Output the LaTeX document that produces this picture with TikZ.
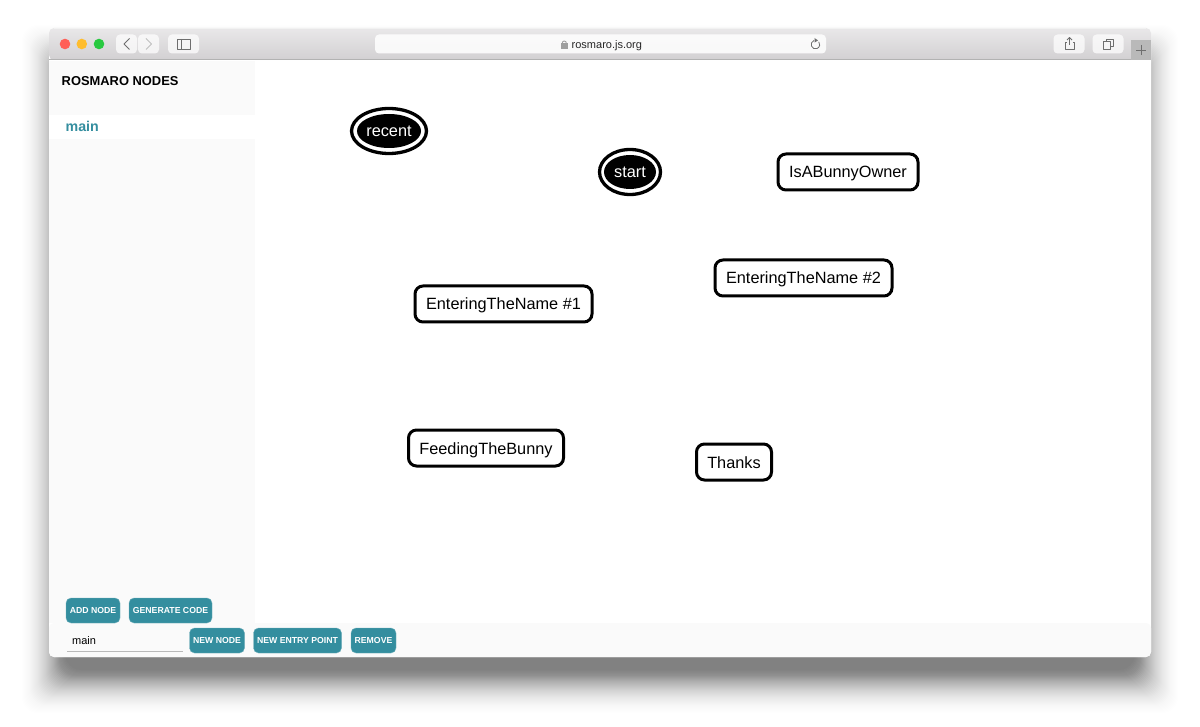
\documentclass[tikz,border=0pt]{standalone}
\usepackage{fontspec}
\setmainfont{Liberation Sans}
\definecolor{teal}{HTML}{348E9F}
\definecolor{side}{HTML}{FAFAFA}
\definecolor{icon}{HTML}{6E6E6E}
\definecolor{tlred}{HTML}{FF5F57}
\definecolor{tlyellow}{HTML}{FFBD2E}
\definecolor{tlgreen}{HTML}{28C940}
\definecolor{bartop}{HTML}{E9E8E9}
\definecolor{barbot}{HTML}{D2D0D2}
\tikzset{
 x=1pt,y=-1pt,
 statebox/.style={draw=black,line width=3pt,rounded corners=8pt,fill=white,minimum height=36pt,inner sep=0pt,font=\fontsize{16.3}{20}\selectfont,text=black,text height=12pt,text depth=0pt},
 entry/.style={ellipse,fill=black,text=white,inner sep=0pt,font=\fontsize{16.3}{20}\selectfont,text height=12pt,text depth=0pt},
 ring/.style={draw=black,line width=3.3pt,ellipse,inner sep=0pt,minimum height=45pt},
 btn/.style={fill=teal,draw=teal!70!white,line width=.4pt,rounded corners=5pt,text=white,minimum height=25pt,inner sep=0pt,font=\bfseries\fontsize{8.7}{10}\selectfont},
 tool/.style={fill=white,fill opacity=.72,text opacity=1,rounded corners=4pt,inner sep=0pt,minimum height=19pt},
 ic/.style={draw=icon,line width=.9pt,line join=round}
}
\usetikzlibrary{shapes.geometric}
\begin{document}
\begin{tikzpicture}
\useasboundingbox (0,0) rectangle (1200,727);
\fill[white] (0,0) rectangle (1200,727);
% shadow
\foreach \s in {0,...,47}{
 \pgfmathsetmacro{\op}{0.023*(1-\s/48)}
 \fill[black,opacity=\op,rounded corners=16pt] ({65-\s},{68-\s}) rectangle ({1135+\s},{670+\s});
}
% window
\fill[white,rounded corners=5pt] (49,28) rectangle (1151,657);
\shade[top color=bartop,bottom color=barbot,rounded corners=5pt] (49,28) -- (49,60) -- (1151,60) -- (1151,28) -- cycle;
\draw[white!95!black,line width=1pt] (54,28.5) -- (1146,28.5);
\fill[gray!60] (49,59.5) rectangle (1151,60.5);
% side panel and bottom bar
\fill[side] (49,61) rectangle (255,623);
\fill[side,rounded corners=5pt] (49,623) -- (49,657) -- (1151,657) -- (1151,623) -- cycle;
\fill[white] (49,115) rectangle (255,139);
% traffic lights
\fill[tlred] (65,44) circle (5.3pt);
\fill[tlyellow] (81.8,44) circle (5.3pt);
\fill[tlgreen] (99,44) circle (5.3pt);
% toolbar buttons
\node[tool,minimum width=21pt] (back) at (126.5,44) {};
\node[tool,minimum width=21pt] (fwd) at (148.5,44) {};
\node[tool,minimum width=31pt] (sidebar) at (183.5,44) {};
\draw[ic,line width=1pt] (129.5,38.5) -- (124,44) -- (129.5,49.5);
\draw[ic,draw=gray!50,line width=1pt] (146,38.5) -- (151.5,44) -- (146,49.5);
\draw[ic] (177,39) rectangle (190,49);
\draw[ic] (181,39) -- (181,49);
% address bar
\node[fill=white,fill opacity=.85,text opacity=1,rounded corners=4pt,minimum width=451pt,minimum height=19pt,inner sep=0pt] (addr) at (600.5,44) {};
\node[font=\fontsize{11}{12}\selectfont,text=black!85,anchor=west,inner sep=0pt] (url) at (571.5,45.5) {rosmaro.js.org};
\fill[gray!75] (561,43) rectangle (567.5,49);
\draw[gray!75,line width=.9pt] (562.3,43) arc (180:0:2pt);
\draw[ic,line width=.8pt] (814,40.5) arc (110:400:4.3pt);
\fill[icon] (814.5,38) -- (818,40.4) -- (814.5,42.6) -- cycle;
% right buttons
\node[tool,minimum width=31pt] (share) at (1069,44) {};
\node[tool,minimum width=31pt] (tabs) at (1108,44) {};
\draw[ic] (1066.5,42) -- (1065,42) -- (1065,49.5) -- (1074,49.5) -- (1074,42) -- (1072.5,42);
\draw[ic] (1069.5,45) -- (1069.5,37.5) (1067,40) -- (1069.5,37.5) -- (1072,40);
\draw[ic] (1103,41.5) rectangle (1110,49);
\draw[ic] (1106,41.5) -- (1106,39) -- (1113.5,39) -- (1113.5,46) -- (1110,46);
\fill[gray!55] (1131,40.5) rectangle (1151,60);
\draw[icon,line width=.8pt] (1136,50) -- (1146,50) (1141,45) -- (1141,55);
% sidebar text
\node[anchor=west,inner sep=0pt,font=\bfseries\fontsize{12.9}{15}\selectfont] (title) at (61.5,81) {ROSMARO NODES};
\node[anchor=west,inner sep=0pt,text=teal,font=\bfseries\fontsize{14.2}{16}\selectfont] (mainitem) at (65.5,126.5) {main};
% graph nodes
\node[ring,minimum width=75pt] (recentring) at (389,131) {};
\node[entry,minimum width=64pt,minimum height=34pt] (recent) at (389,131) {recent};
\node[ring,minimum width=61pt] (startring) at (630,172) {};
\node[entry,minimum width=52pt,minimum height=34pt] (start) at (630,172) {start};
\node[statebox,minimum width=140pt] (owner) at (848,172) {IsABunnyOwner};
\node[statebox,minimum width=177pt] (name2) at (803.5,278) {EnteringTheName \#2};
\node[statebox,minimum width=177pt] (name1) at (503.5,304) {EnteringTheName \#1};
\node[statebox,minimum width=155pt] (feed) at (486,448) {FeedingTheBunny};
\node[statebox,minimum width=75pt] (thanks) at (734,462) {Thanks};
% buttons
\node[btn,minimum width=54pt] (add) at (93,610.5) {ADD NODE};
\node[btn,minimum width=83pt] (gen) at (170.5,610.5) {GENERATE CODE};
\node[btn,minimum width=55pt] (newnode) at (217,640.5) {NEW NODE};
\node[btn,minimum width=88pt] (newentry) at (297.5,640.5) {NEW ENTRY POINT};
\node[btn,minimum width=45pt] (remove) at (373.5,640.5) {REMOVE};
% input
\node[anchor=west,inner sep=0pt,font=\fontsize{11}{12}\selectfont] (input) at (72,640.5) {main};
\draw[gray!55,line width=.8pt] (67,651.5) -- (183,651.5);
\end{tikzpicture}
\end{document}
